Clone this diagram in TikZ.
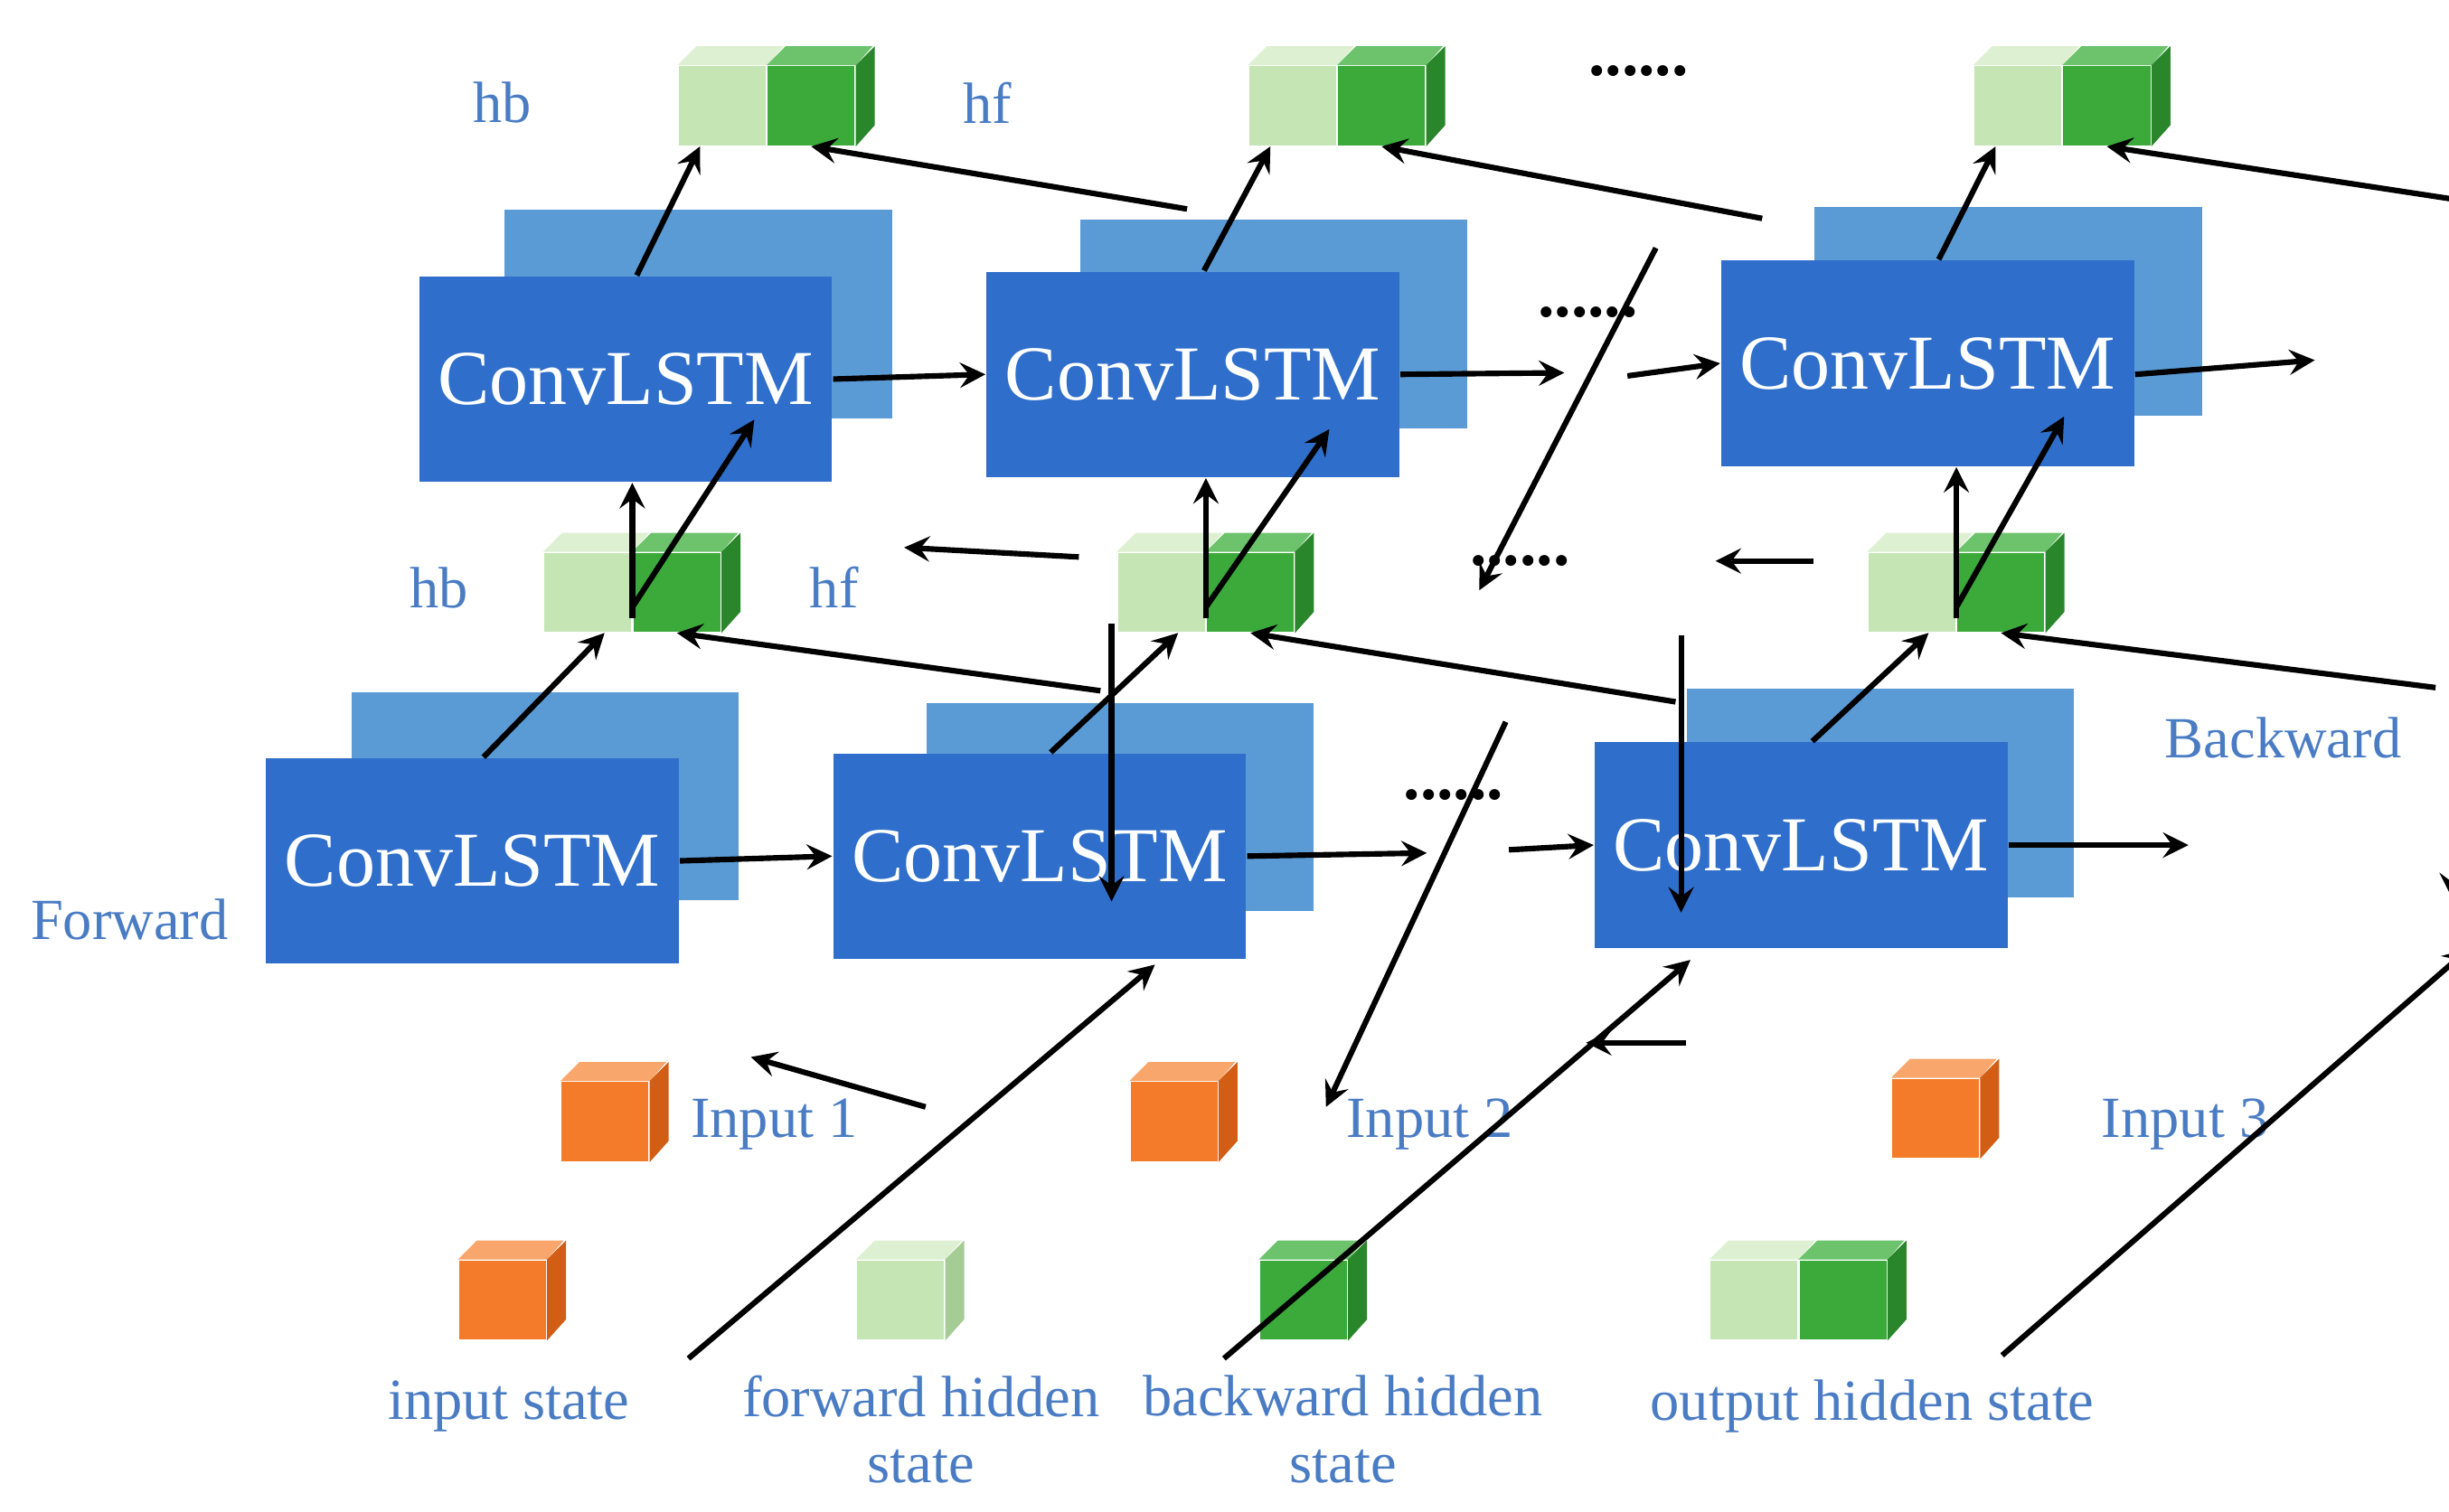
\documentclass[tikz,border=0pt]{standalone}
\usepackage{fontspec}
\setmainfont{Liberation Serif}
\usetikzlibrary{calc}
\definecolor{lstmfront}{HTML}{2F6FCB}
\definecolor{lstmback}{HTML}{5B9BD5}
\definecolor{lblblue}{HTML}{4A7CC4}
\definecolor{inpface}{HTML}{F47B2A}\definecolor{inptop}{HTML}{F9A66C}\definecolor{inpside}{HTML}{D25E16}
\definecolor{fwface}{HTML}{C6E5B5}\definecolor{fwtop}{HTML}{DDF0D2}\definecolor{fwside}{HTML}{A5CC94}
\definecolor{bwface}{HTML}{3BAA3B}\definecolor{bwtop}{HTML}{6CC36C}\definecolor{bwside}{HTML}{2A862A}

% one cube: name, centre of front face, colour prefix
\newcommand{\statecube}[3]{%
  \node[face, fill=#3face] (#1) at #2 {};
  \fill[#3top] (#1.north west) -- ++(12,-12) -- ++(55,0) -- (#1.north east) -- cycle;
  \fill[#3side] (#1.north east) -- ++(12,-12) -- ++(0,50) -- (#1.south east) -- cycle;}
% output cube: forward and backward half side by side
\newcommand{\outcube}[2]{%
  \node[face, fill=fwface] (#1f) at #2 {};
  \node[face, fill=bwface, anchor=west] (#1b) at (#1f.east) {};
  \fill[fwtop] (#1f.north west) -- ++(12,-12) -- ++(55,0) -- (#1f.north east) -- cycle;
  \fill[bwtop] (#1b.north west) -- ++(12,-12) -- ++(55,0) -- (#1b.north east) -- cycle;
  \fill[bwside] (#1b.north east) -- ++(12,-12) -- ++(0,50) -- (#1b.south east) -- cycle;}

\begin{document}
\begin{tikzpicture}[
    x=0.1mm, y=-0.1mm,
    front/.style={rectangle, fill=lstmfront, minimum width=24.3mm, minimum height=13mm,
      text=white, font=\fontsize{14}{14}\selectfont},
    back/.style={rectangle, fill=lstmback, minimum width=24.5mm, minimum height=13.2mm},
    face/.style={rectangle, minimum width=5.5mm, minimum height=5mm, inner sep=0},
    lbl/.style={text=lblblue, font=\fontsize{10.5}{12}\selectfont, align=center},
    dots/.style={font=\fontsize{12}{12}\selectfont\bfseries},
    arrow/.style={->, line width=1pt, >=stealth}
  ]
  \useasboundingbox (0,0) rectangle (1550,957);

  % ConvLSTM cells, upper layer
  \node[back] (tb1) at (442,199) {};
  \node[front] (tf1) at (396,240) {ConvLSTM};
  \node[back] (tb2) at (806,205) {};
  \node[front] (tf2) at (755,237) {ConvLSTM};
  \node[back] (tb3) at (1271,197) {};
  \node[front] (tf3) at (1220,230) {ConvLSTM};
  % ConvLSTM cells, lower layer
  \node[back] (bb1) at (345,504) {};
  \node[front] (bf1) at (299,545) {ConvLSTM};
  \node[back] (bb2) at (709,511) {};
  \node[front] (bf2) at (658,542) {ConvLSTM};
  \node[back] (bb3) at (1190,502) {};
  \node[front] (bf3) at (1140,535) {ConvLSTM};

  % hidden state cubes
  \outcube{to1}{(457,67)}
  \outcube{to2}{(818,67)}
  \outcube{to3}{(1277,67)}
  \outcube{mo1}{(372,375)}
  \outcube{mo2}{(735,375)}
  \outcube{mo3}{(1210,375)}
  % inputs
  \statecube{in1}{(383,710)}{inp}
  \statecube{in2}{(743,710)}{inp}
  \statecube{in3}{(1225,708)}{inp}

  % labels
  \node[lbl] (hb1) at (318,65) {hb};
  \node[lbl] (hf1) at (625,65) {hf};
  \node[lbl] (hb2) at (278,372) {hb};
  \node[lbl] (hf2) at (528,372) {hf};
  \node[lbl] (fwd) at (82,582) {Forward};
  \node[lbl] (bwd) at (1445,467) {Backward};
  \node[lbl] (il1) at (490,712) {Input 1};
  \node[lbl] (il2) at (905,712) {Input 2};
  \node[lbl] (il3) at (1383,712) {Input 3};
  \node[dots] (d1) at (1037,45) {......};
  \node[dots] (d2) at (1005,198) {......};
  \node[dots] (d3) at (962,355) {......};
  \node[dots] (d4) at (920,503) {......};

  % legend
  \statecube{lg1}{(318,823)}{inp}
  \statecube{lg2}{(570,823)}{fw}
  \statecube{lg3}{(825,823)}{bw}
  \outcube{lg4}{(1110,823)}
  \node[lbl] (lt1) at (322,890) {input state};
  \node[lbl] (lt2) at (583,905) {forward hidden\\state};
  \node[lbl] (lt3) at (850,905) {backward hidden\\state};
  \node[lbl] (lt4) at (1185,890) {output hidden state};

  % free ends of arrows
  \coordinate (ta) at (990,236);  \coordinate (tb) at (1030,238);
  \coordinate (tc) at (1465,228); \coordinate (td) at (1048,157);
  \coordinate (ba) at (903,540);  \coordinate (bc) at (955,538);
  \coordinate (bd) at (1385,535); \coordinate (be) at (953,457);

  % forward direction
  \draw[arrow] (tf1.east) -- (tf2.west);
  \draw[arrow] (tf2.east) -- (ta);
  \draw[arrow] (tb) -- (tf3.west);
  \draw[arrow] ([yshift=-2]tf3.east) -- (tc);
  \draw[arrow] (bf1.east) -- (bf2.west);
  \draw[arrow] (bf2.east) -- (ba);
  \draw[arrow] (bc) -- (bf3.west);
  \draw[arrow] (bf3.east) -- (bd);
  % backward direction
  \draw[arrow] ([yshift=-42]tb2.west) -- ([yshift=-42,xshift=2]tb1.east);
  \draw[arrow] (td) -- ([yshift=-48,xshift=2]tb2.east);
  \draw[arrow] ([yshift=-45]tb3.west) -- ++(-62,0);
  \draw[arrow] ([yshift=-54]bb2.west) -- ([yshift=-47,xshift=2]bb1.east);
  \draw[arrow] (be) -- ([yshift=-54,xshift=2]bb2.east);
  \draw[arrow] ([yshift=-45]bb3.west) -- ++(-63,0);

  % inputs into cells
  \foreach \i/\dx in {1/15, 2/9, 3/12} {
    \draw[arrow] ([xshift=\dx,yshift=-50]in\i.north) -- ([xshift=\dx+84]bf\i.south -| in\i.north);
  }
  \draw[arrow] ([yshift=50,xshift=102]bb1.south) -- ([xshift=102]bb1.south);
  \draw[arrow] ([yshift=50,xshift=101]bb2.south) -- ([xshift=101]bb2.south);
  \draw[arrow] ([yshift=50,xshift=103]bb3.south) -- ([xshift=103]bb3.south);

  % cells to hidden states, and hidden states to upper layer
  \foreach \i/\dx in {1/0, 2/0, 3/0} {
    \draw[arrow] ([xshift=2]bf\i.north) -- ([xshift=-5]mo\i f.south east);
    \draw[arrow] ([xshift=100]bb\i.north) -- (mo\i b.south);
    \draw[arrow] ([yshift=-12]mo\i f.north east) -- (mo\i f.north east |- tf\i.south);
    \draw[arrow] ([yshift=-10]mo\i f.north east) -- ([xshift=-25]tb\i.south east);
    \draw[arrow] ([xshift=2]tf\i.north) -- ([xshift=-12]to\i f.south east);
    \draw[arrow] ([xshift=88]tb\i.north) -- (to\i b.south);
  }
\end{tikzpicture}
\end{document}
